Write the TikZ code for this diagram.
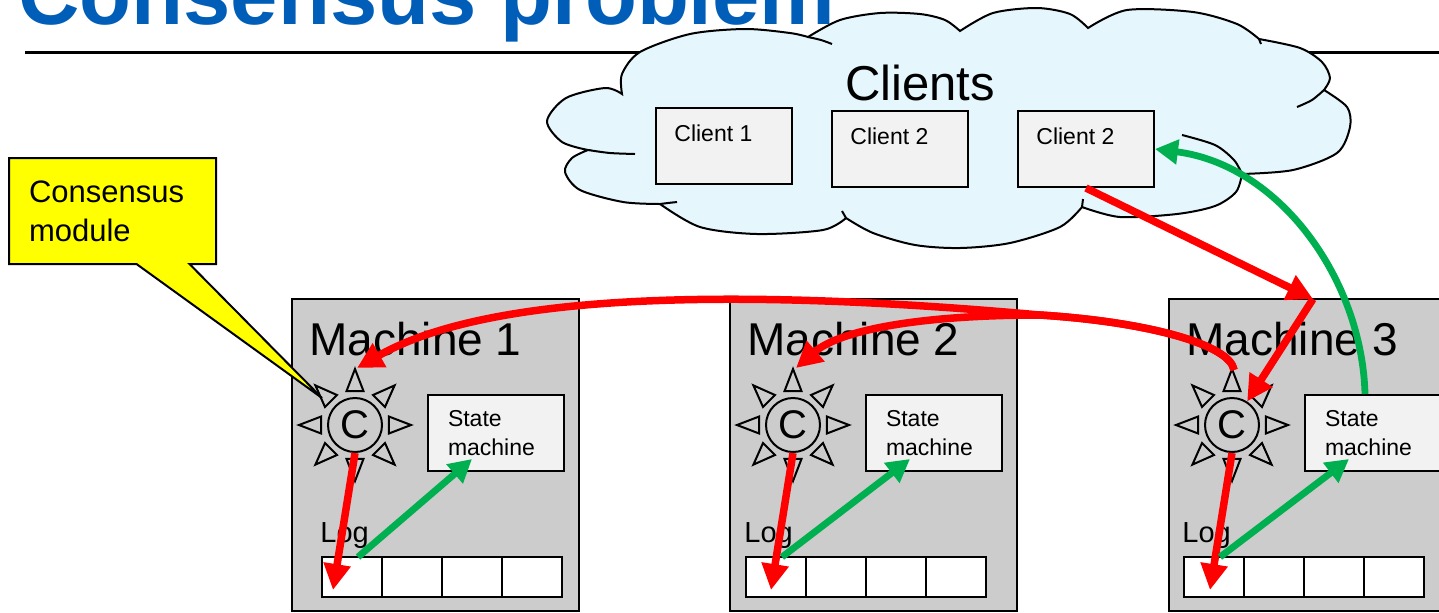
\documentclass[tikz,border=0pt]{standalone}
\usepackage{fontspec}
\setmainfont{Liberation Sans}
\usetikzlibrary{arrows.meta,positioning,calc,shapes.callouts}

\definecolor{titleblue}{RGB}{0,94,184}
\definecolor{machinegray}{RGB}{204,204,204}
\definecolor{boxgray}{RGB}{242,242,242}
\definecolor{cloudblue}{RGB}{229,246,253}
\definecolor{msgred}{RGB}{255,0,0}
\definecolor{applygreen}{RGB}{0,176,80}
\definecolor{noteyellow}{RGB}{255,255,0}

\begin{document}
\begin{tikzpicture}[
  x=0.5pt, y=-0.5pt,
  every node/.style={inner sep=0pt},
  machine/.style={draw, line width=1pt, fill=machinegray, anchor=north west, minimum width=143.5pt, minimum height=156pt},
  client/.style={draw, line width=1pt, fill=boxgray, anchor=north west, minimum width=68pt, minimum height=38pt},
  statebox/.style={draw, line width=1pt, fill=boxgray, anchor=north west, minimum height=38pt, text width=48pt, inner xsep=10pt, align=left, font=\fontsize{11.5pt}{14.5pt}\selectfont},
  logcell/.style={draw, line width=1pt, fill=white, minimum width=30pt, minimum height=20pt, outer sep=0pt},
  cmod/.style={draw, circle, line width=1pt, minimum size=27pt, font=\fontsize{20pt}{24pt}\selectfont},
  ray/.style={draw, line width=1pt, line join=miter},
  cloudline/.style={draw, line width=1pt, fill=cloudblue},
  cloudseam/.style={draw, line width=1pt},
  redmsg/.style={draw=msgred, line width=3.75pt, -{Triangle[length=13pt,width=13pt]}},
  greenmsg/.style={draw=applygreen, line width=3.4pt, -{Triangle[length=11.5pt,width=12pt]}},
  titletext/.style={font=\fontsize{42.5pt}{50pt}\selectfont\bfseries, text=titleblue, anchor=base west},
  machtext/.style={font=\fontsize{23pt}{27pt}\selectfont, anchor=base west},
  smalltext/.style={font=\fontsize{11.5pt}{14pt}\selectfont, anchor=base west},
  logtext/.style={font=\fontsize{14.5pt}{17pt}\selectfont, anchor=base west},
  cloudtext/.style={font=\fontsize{24.5pt}{29pt}\selectfont, anchor=base},
  note/.style={rectangle callout, draw, line width=1pt, fill=noteyellow, text width=83.5pt, inner xsep=10pt, minimum height=53pt, align=left, callout pointer width=26.5pt, font=\fontsize{15.5pt}{19.5pt}\selectfont},
]
\useasboundingbox (0,0) rectangle (1439,612);
\clip (0,0) rectangle (1439,612);

% title and rule
\node[titletext] (title) at (18,24) {Consensus problem};
\draw[line width=1.5pt] (25,52) -- (1439,52);

% cloud of clients
\path[cloudline]
  plot[smooth] coordinates {(660,204) (623,202) (580,190) (565,172) (572,158) (588,150)}
  -- plot[smooth] coordinates {(588,150) (562,142) (547,121) (566,98) (605,88) (622,94)}
  -- plot[smooth] coordinates {(622,94) (622,74) (640,52) (690,34) (745,29) (790,33) (808,37)}
  -- plot[smooth] coordinates {(808,37) (840,20) (880,13) (920,14) (945,20) (960,31)}
  -- plot[smooth] coordinates {(960,31) (993,13) (1037,8) (1070,14) (1088,28)}
  -- plot[smooth] coordinates {(1088,28) (1127,10) (1193,12) (1237,24) (1259,39)}
  -- plot[smooth] coordinates {(1259,39) (1300,48) (1322,62) (1330,78) (1324,90)}
  -- plot[smooth] coordinates {(1324,90) (1347,107) (1350,127) (1337,153) (1293,170) (1242,174)}
  -- plot[smooth] coordinates {(1242,174) (1236,192) (1215,206) (1177,214) (1120,217) (1082,207)}
  -- plot[smooth] coordinates {(1082,207) (1060,227) (1010,243) (960,248) (915,245) (873,233) (846,218)}
  -- plot[smooth] coordinates {(846,218) (823,230) (757,234) (700,227) (660,204)}
  -- cycle;
\draw[cloudseam] plot[smooth] coordinates {(588,150) (610,153) (635,154)};
\draw[cloudseam] plot[smooth] coordinates {(660,204) (668,203) (677,202)};
\draw[cloudseam] plot[smooth] coordinates {(808,37) (821,40) (832,44)};
\draw[cloudseam] plot[smooth] coordinates {(1259,39) (1261,44)};
\draw[cloudseam] plot[smooth] coordinates {(1324,90) (1312,100) (1297,107)};
\draw[cloudseam] plot[smooth] coordinates {(1182,135) (1215,145) (1234,160) (1242,174)};
\draw[cloudseam] plot[smooth] coordinates {(1082,207) (1083,199)};
\draw[cloudseam] plot[smooth] coordinates {(846,218) (842,211)};
\node[cloudtext] (clients) at (920,100) {Clients};
\node[client] (cl1) at (655,107) {};
\node[client] (cl2) at (831,110) {};
\node[client] (cl3) at (1017,110) {};
\foreach \n/\t in {cl1/Client 1, cl2/Client 2, cl3/Client 2}
  \node[smalltext] at ([shift={(9.5pt,-17pt)}]\n.north west) {\t};

% machines
\foreach \i/\dx/\lx in {1/0/0, 2/438/424, 3/877/862} {
  \node[machine] (m\i) at (291+\dx,298) {};
  \node[machtext] at (309+\dx,355) {Machine \i};
  \node[cmod] (c\i) at (355+\dx,425) {C};
  \foreach \a in {0,45,...,315}
    \draw[ray] ($(c\i)+(\a+14:35)$) -- ($(c\i)+(\a:56)$) -- ($(c\i)+(\a-14:35)$) -- cycle;
  \node[statebox] (sm\i) at (427+\dx,394) {State\\machine};
  \node[logtext] at (320+\lx,542) {Log};
  \node[logcell, anchor=north west] (log\i-1) at (322+\lx,557) {};
  \foreach \k [count=\j from 1] in {2,3,4}
    \node[logcell, right=0pt of log\i-\j] (log\i-\k) {};
  \draw[redmsg] (c\i.south) -- ($(c\i.south)+(-22,137)$);
  \draw[greenmsg] ([xshift=3pt]log\i-1.north) -- ($(sm\i.south west)+(45,-13)$);
}

% replication from machine 3
\coordinate (top1) at ($(c1.north)+(2,-29)$);
\coordinate (top2) at ($(c2.north)+(3,-29)$);
\coordinate (top3) at ($(c3.north)+(2,-27)$);
\coordinate (split) at (1040,315);
\draw[redmsg] (top3) .. controls (1230,345) and (1150,322) .. (split) .. controls (740,288) and (490,292) .. (top1);
\draw[redmsg] (top3) .. controls (1230,345) and (1150,322) .. (split) .. controls (920,315) and (840,330) .. (top2);

% client request and reply
\coordinate (hub) at (1313,299);
\draw[redmsg] (cl3.south) -- (hub);
\draw[redmsg] (hub) -- (c3);
\draw[greenmsg] ($(sm3.north west)+(61,0)$) .. controls (1362,280) and (1280,165) .. (cl3.east);

% callout
\node[note, callout absolute pointer={(322,398)}] (note) at (112.5,211) {Consensus\\module};
\end{tikzpicture}
\end{document}
